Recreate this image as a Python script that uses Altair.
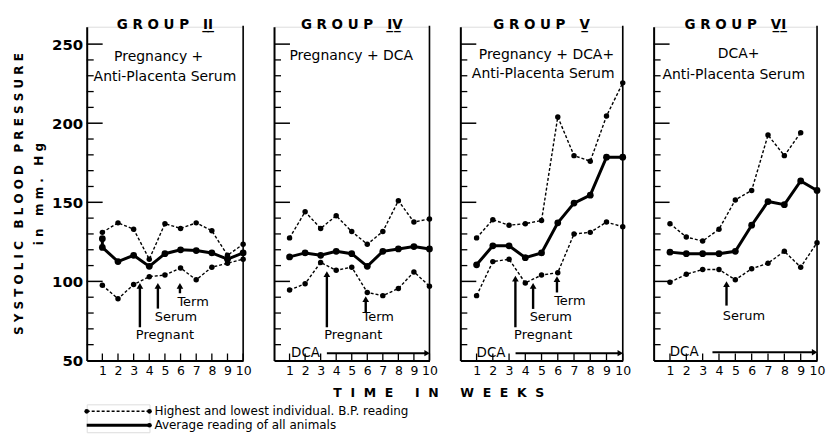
import altair as alt
import pandas as pd

NB = "\u00a0"
UL = "\u0332"

# ---------------- data ----------------
WEEKS = [1, 2, 3, 4, 5, 6, 7, 8, 9, 10]

GROUPS = ["II", "IV", "V", "VI"]

HIGH_WEEKS = [WEEKS, WEEKS, WEEKS, [1, 2, 3, 4, 5, 6, 7, 8, 9]]
HIGH = [
    [131, 137, 133, 114, 136.5, 133.5, 137, 132, 116.5, 123.5],
    [127.5, 144, 133.5, 141.5, 131.5, 123.5, 131.5, 151, 137.5, 139.5],
    [127.5, 139, 135.5, 136.5, 138.5, 204, 179.5, 176, 204.5, 225.5],
    [136.5, 128, 125.5, 133, 151.5, 157.5, 192.5, 179.5, 194],
]
AVG_WEEKS = [[1, 1, 2, 3, 4, 5, 6, 7, 8, 9, 10], WEEKS, WEEKS, WEEKS]
AVG = [
    [127, 121.5, 112.5, 116.5, 109.5, 117.5, 120, 119.5, 118, 114, 118],
    [115.5, 118, 116.5, 119, 117.5, 109.5, 119, 120.5, 122, 120.5],
    [110.5, 122.5, 122.5, 115, 118, 137, 149.5, 154.5, 178.5, 178.5],
    [118.5, 117.5, 117.5, 117.5, 119, 135.5, 150.5, 148.5, 163.5, 157.5],
]
LOW = [
    [97.5, 89, 98, 103, 104, 108.5, 101, 109, 111.5, 114],
    [94.5, 98.5, 112, 107, 109, 93, 91, 95.5, 106, 97],
    [91, 112.5, 114, 99, 104, 105.5, 130, 131, 137.5, 134.5],
    [99.5, 104.5, 107.5, 107.5, 101, 108, 111.5, 119, 109, 124.5],
]

SUBTITLES = [
    ["Pregnancy +", "Anti-Placenta Serum"],
    ["Pregnancy + DCA"],
    ["Pregnancy + DCA+", "Anti-Placenta Serum"],
    ["DCA+", "Anti-Placenta Serum"],
]
SUB_X = [[4.6, 5.0], [4.97], [5.3, 5.1], [5.2, 4.9]]
SUB_Y = [[242, 229], [242.4], [243, 230.8], [243.7, 230.4]]

ARROW_LABELS = [["Pregnant", "Serum", "Term"], ["Pregnant", "Term"],
                ["Pregnant", "Serum", "Term"], ["Serum"]]
ARROW_X = [[3.4, 4.55, 5.96], [3.4, 5.9], [3.39, 4.48, 5.95], [4.46]]
ARROW_TAIL = [[71, 82.8, 92.5], [71, 80.5], [71, 82.6, 93], [84.7]]
ARROW_HEAD = [[99.4, 99.4, 99.4], [106.8, 91], [104, 99.4, 103.6], [100.5]]
LABEL_X = [[5.0, 5.7, 6.8], [5.1, 6.7], [5.1, 5.57, 6.74], [5.53]]
LABEL_Y = [[65.8, 77.3, 86.8], [65.8, 77.3], [66.4, 77.3, 87.9], [77.8]]

DCA_LABEL_X = [None, 1.1, 1.0, 0.98]
DCA_Y = [None, 54.6, 54.6, 55.2]
DCA_START = [None, 3.4, 3.4, 3.6]
DCA_END = [None, 10, 10, 10]

MAJOR_TICKS = [100, 150, 200, 250]
MINOR_TICKS = [60, 70, 80, 90, 110, 120, 130, 140, 160, 170, 180, 190,
               210, 220, 230, 240]
Y_LABELS = [50, 100, 150, 200, 250]

LEGEND_LABELS = ["Highest and lowest individual. B.P. reading",
                 "Average reading of all animals"]
LEGEND_KIND = ["range", "avg"]

PANEL_W = [157, 156, 163, 164]
H = 335
FONT = "DejaVu Sans"


def spaced(words, inner=1, outer=3):
    return (NB * outer).join((NB * inner).join(list(w)) for w in words)


def make_panel(g):
    w = PANEL_W[g]
    xs = alt.Scale(domain=[0, 10], nice=False, zero=False)
    ys = alt.Scale(domain=[50, 261], nice=False, zero=False)

    rows = []
    for i, (wk, v) in enumerate(zip(HIGH_WEEKS[g], HIGH[g])):
        rows.append({"week": wk, "bp": v, "band": "high", "kind": "range", "idx": i})
    for i, (wk, v) in enumerate(zip(WEEKS, LOW[g])):
        rows.append({"week": wk, "bp": v, "band": "low", "kind": "range", "idx": i})
    for i, (wk, v) in enumerate(zip(AVG_WEEKS[g], AVG[g])):
        rows.append({"week": wk, "bp": v, "band": "avg", "kind": "avg", "idx": i})
    df = pd.DataFrame(rows)

    xaxis = alt.Axis(values=WEEKS, ticks=False, labelFontSize=12.5, labelFont=FONT,
                     labelPadding=4, domainWidth=2, domainColor="black",
                     labelColor="black", labelOverlap=False, title=None,
                     grid=False, labelFlush=False, labelBound=False)
    if g == 0:
        yaxis = alt.Axis(values=Y_LABELS, ticks=False, labelFontSize=15,
                         labelFontWeight="bold", labelFont=FONT, labelPadding=4,
                         labelColor="black", domainWidth=2, domainColor="black",
                         grid=False, labelOverlap=False,
                         title=[spaced(["SYSTOLIC", "BLOOD", "PRESSURE"]),
                                spaced(["in", "mm.", "Hg"])],
                         titleFontSize=12, titleFontWeight="bold", titleFont=FONT,
                         titleColor="black", titlePadding=6, titleLineHeight=20)
    else:
        yaxis = alt.Axis(labels=False, ticks=False, title=None, domainWidth=2,
                         domainColor="black", grid=False)

    def X(f):
        return alt.X(f, scale=xs, axis=xaxis)

    def Y(f):
        return alt.Y(f, scale=ys, axis=yaxis)

    base = alt.Chart(df)
    rng = base.transform_filter("datum.kind == 'range'")
    avg = base.transform_filter("datum.kind == 'avg'")
    layers = [
        rng.mark_line(color="black", strokeWidth=1.4, strokeDash=[3, 2]).encode(
            x=X("week:Q"), y=Y("bp:Q"), detail="band:N", order="idx:Q"),
        rng.mark_circle(color="black", size=30, opacity=1).encode(
            x=X("week:Q"), y=Y("bp:Q")),
        avg.mark_line(color="black", strokeWidth=3).encode(
            x=X("week:Q"), y=Y("bp:Q"), order="idx:Q"),
        avg.mark_circle(color="black", size=46, opacity=1).encode(
            x=X("week:Q"), y=Y("bp:Q")),
    ]

    # inward axis ticks
    layers.append(alt.Chart(pd.DataFrame({"t": MINOR_TICKS})).mark_rule(
        color="black", strokeWidth=1.3).encode(
        y=Y("t:Q"), x=alt.value(0), x2=alt.value(7)))
    layers.append(alt.Chart(pd.DataFrame({"t": MAJOR_TICKS})).mark_rule(
        color="black", strokeWidth=1.5).encode(
        y=Y("t:Q"), x=alt.value(0), x2=alt.value(16)))
    layers.append(alt.Chart(pd.DataFrame({"wk": WEEKS})).mark_rule(
        color="black", strokeWidth=1.3).encode(
        x=X("wk:Q"), y=alt.value(H), y2=alt.value(H - 7)))
    # right border
    layers.append(alt.Chart(pd.DataFrame({"e": [10]})).mark_rule(
        color="black", strokeWidth=1.6).encode(
        x=X("e:Q"), y=alt.value(-1), y2=alt.value(H)))

    # subtitles
    sub = pd.DataFrame({"t": SUBTITLES[g], "x": SUB_X[g], "y": SUB_Y[g]})
    layers.append(alt.Chart(sub).mark_text(font=FONT, fontSize=14, color="black",
                                           baseline="middle").encode(
        x=X("x:Q"), y=Y("y:Q"), text="t:N"))

    # event arrows
    ann = pd.DataFrame({"label": ARROW_LABELS[g], "ax": ARROW_X[g],
                        "tail": ARROW_TAIL[g], "head": ARROW_HEAD[g],
                        "lx": LABEL_X[g], "ly": LABEL_Y[g]})
    annb = alt.Chart(ann).transform_calculate(tip="datum.head - 2.2")
    layers.append(annb.mark_rule(color="black", strokeWidth=2.4).encode(
        x=X("ax:Q"), y=Y("tail:Q"), y2="tip:Q"))
    layers.append(annb.mark_point(shape="triangle-up", filled=True, color="black",
                                  size=45, opacity=1).encode(
        x=X("ax:Q"), y=Y("tip:Q")))
    layers.append(alt.Chart(ann).mark_text(font=FONT, fontSize=13, color="black",
                                           baseline="middle").encode(
        x=X("lx:Q"), y=Y("ly:Q"), text="label:N"))

    # DCA treatment bar
    if DCA_Y[g] is not None:
        dca = pd.DataFrame({"label": ["DCA"], "lx": [DCA_LABEL_X[g]],
                            "y": [DCA_Y[g]], "s": [DCA_START[g]],
                            "e": [DCA_END[g]]})
        dcab = alt.Chart(dca).transform_calculate(tipx="datum.e - 0.15")
        layers.append(dcab.mark_text(font=FONT, fontSize=13.5, color="black",
                                     align="left", baseline="middle").encode(
            x=X("lx:Q"), y=Y("y:Q"), text="label:N"))
        layers.append(dcab.mark_rule(color="black", strokeWidth=2).encode(
            x=X("s:Q"), x2="tipx:Q", y=Y("y:Q")))
        layers.append(dcab.mark_point(shape="triangle-right", filled=True,
                                      color="black", size=40, opacity=1).encode(
            x=X("tipx:Q"), y=Y("y:Q")))

    title = spaced(["GROUP"]) + NB * 3 + UL.join(list(GROUPS[g])) + UL
    return alt.layer(*layers).properties(
        width=w, height=H,
        title=alt.TitleParams(title, fontSize=13.5, fontWeight="bold", font=FONT,
                              color="black", anchor="middle", offset=-7))


panels = [make_panel(g) for g in range(4)]
top = alt.hconcat(*panels, spacing=31, bounds="flush").properties(
    title=alt.TitleParams(spaced(["TIME", "IN", "WEEKS"], inner=2, outer=5),
                          orient="bottom", anchor="middle", fontSize=12.5,
                          fontWeight="bold", font=FONT, color="black",
                          offset=10, dx=20))

# legend
lrows = []
for lab, kind in zip(LEGEND_LABELS, LEGEND_KIND):
    for xv in (0, 1):
        lrows.append({"label": lab, "kind": kind, "x": xv})
ldf = pd.DataFrame(lrows)
lb = alt.Chart(ldf)
LX = alt.X("x:Q", scale=alt.Scale(domain=[0, 1], nice=False), axis=None)
LY = alt.Y("label:N", sort=LEGEND_LABELS, scale=alt.Scale(padding=0.5), axis=None)
legend = alt.layer(
    lb.transform_filter("datum.kind == 'range'").mark_line(
        color="black", strokeWidth=1.4, strokeDash=[3, 2]).encode(x=LX, y=LY),
    lb.transform_filter("datum.kind == 'avg'").mark_line(
        color="black", strokeWidth=3).encode(x=LX, y=LY),
    lb.transform_filter("datum.kind == 'range' || datum.x == 1").mark_circle(
        color="black", size=22, opacity=1).encode(x=LX, y=LY),
    lb.transform_filter("datum.x == 1").mark_text(
        font=FONT, fontSize=12, color="black", align="left", dx=5).encode(
        x=LX, y=LY, text="label:N"),
).properties(width=63, height=28)

chart = alt.vconcat(top, legend, spacing=3).properties(
    padding={"left": 4, "top": 9, "right": 0, "bottom": 0}
).configure_view(stroke=None).configure(font=FONT)

chart.save("out.html", embed_options={"renderer": "svg", "actions": False})
